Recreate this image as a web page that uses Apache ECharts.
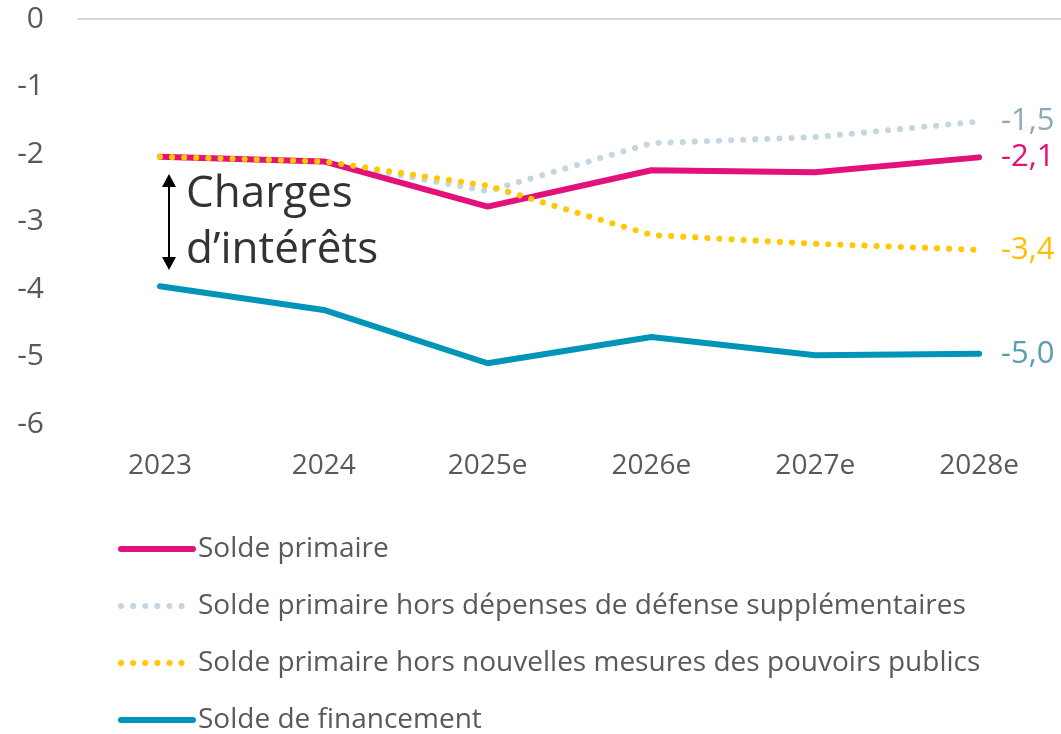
<!DOCTYPE html>
<html>
<head>
<meta charset="utf-8">
<script src="https://cdn.jsdelivr.net/npm/echarts@6/dist/echarts.min.js"></script>
<style>html,body{margin:0;padding:0;background:#fff}#c{width:1061px;height:734px}</style>
</head>
<body>
<div id="c"></div>
<script>
const categories = ['2023', '2024', '2025e', '2026e', '2027e', '2028e'];
const soldePrimaire = [-2.04, -2.11, -2.78, -2.24, -2.27, -2.05];
const horsDefense = [-2.04, -2.11, -2.55, -1.84, -1.75, -1.52];
const horsMesures = [-2.04, -2.11, -2.47, -3.20, -3.33, -3.42];
const soldeFinancement = [-3.96, -4.31, -5.10, -4.71, -4.98, -4.96];
const endLabels = { primaire: '-2,1', defense: '-1,5', mesures: '-3,4', financement: '-5,0' };
const yTicks = [0, -1, -2, -3, -4, -5, -6];

const FONT = '"Open Sans", "Noto Sans", sans-serif';
const chart = echarts.init(document.getElementById('c'));
const dotted = (color) => ({ color: color, width: 6, type: [0.1, 12], cap: 'round' });

chart.setOption({
  animation: false,
  textStyle: { fontFamily: FONT },
  grid: { left: 78, right: 0, top: 19, bottom: 310 },
  xAxis: [{
    type: 'category', data: categories, position: 'bottom',
    axisLine: { show: false }, axisTick: { show: false },
    axisLabel: { fontSize: 28, color: '#595959', margin: 28, fontFamily: FONT }
  }, {
    type: 'category', data: categories, position: 'top',
    axisLine: { show: true, onZero: false, lineStyle: { color: '#d9d9d9', width: 2 } },
    axisTick: { show: false }, axisLabel: { show: false }
  }],
  yAxis: {
    type: 'value', min: -6, max: 0, interval: 1,
    axisLine: { show: false }, axisTick: { show: false }, splitLine: { show: false },
    axisLabel: { fontSize: 30, color: '#595959', margin: 34, fontFamily: FONT }
  },
  legend: {
    orient: 'vertical', left: 118, top: 535, height: 199, padding: 0,
    itemWidth: 72, itemHeight: 14, itemGap: 29,
    itemStyle: { opacity: 0 },
    lineStyle: { width: 6, cap: 'round' },
    textStyle: { fontSize: 28, color: '#595959', lineHeight: 28, fontFamily: FONT },
    data: ['Solde primaire', 'Solde primaire hors dépenses de défense supplémentaires',
           'Solde primaire hors nouvelles mesures des pouvoirs publics', 'Solde de financement']
  },
  series: [
    {
      name: 'Solde primaire hors dépenses de défense supplémentaires', type: 'line', data: horsDefense,
      symbol: 'none', z: 2, lineStyle: dotted('#c6d6e0'), itemStyle: { color: '#c6d6e0' },
      endLabel: { show: true, formatter: endLabels.defense, color: '#8eaab9', fontSize: 31, distance: 22, fontFamily: FONT }
    },
    {
      name: 'Solde primaire', type: 'line', data: soldePrimaire,
      symbol: 'none', z: 3, lineStyle: { color: '#e2127a', width: 6, cap: 'round' }, itemStyle: { color: '#e2127a' },
      endLabel: { show: true, formatter: endLabels.primaire, color: '#e2127a', fontSize: 31, distance: 22, fontFamily: FONT }
    },
    {
      name: 'Solde primaire hors nouvelles mesures des pouvoirs publics', type: 'line', data: horsMesures,
      symbol: 'none', z: 4, lineStyle: dotted('#ffc800'), itemStyle: { color: '#ffc800' },
      endLabel: { show: true, formatter: endLabels.mesures, color: '#ffbe00', fontSize: 31, distance: 22, fontFamily: FONT }
    },
    {
      name: 'Solde de financement', type: 'line', data: soldeFinancement,
      symbol: 'none', z: 3, lineStyle: { color: '#0095b8', width: 6, cap: 'round' }, itemStyle: { color: '#0095b8' },
      endLabel: { show: true, formatter: endLabels.financement, color: '#5a9fb1', fontSize: 31, distance: 22, fontFamily: FONT }
    }
  ],
  graphic: [
    { type: 'line', shape: { x1: 169, y1: 182, x2: 169, y2: 262 }, style: { stroke: '#000', lineWidth: 2 } },
    { type: 'polygon', shape: { points: [[162, 187], [176, 187], [169, 174]] }, style: { fill: '#000' } },
    { type: 'polygon', shape: { points: [[162, 257], [176, 257], [169, 270]] }, style: { fill: '#000' } },
    { type: 'text', left: 186, top: 166, style: { text: 'Charges\nd\u2019intérêts', font: '44px ' + FONT, fill: '#333', lineHeight: 56 } }
  ]
});
</script>
</body>
</html>
